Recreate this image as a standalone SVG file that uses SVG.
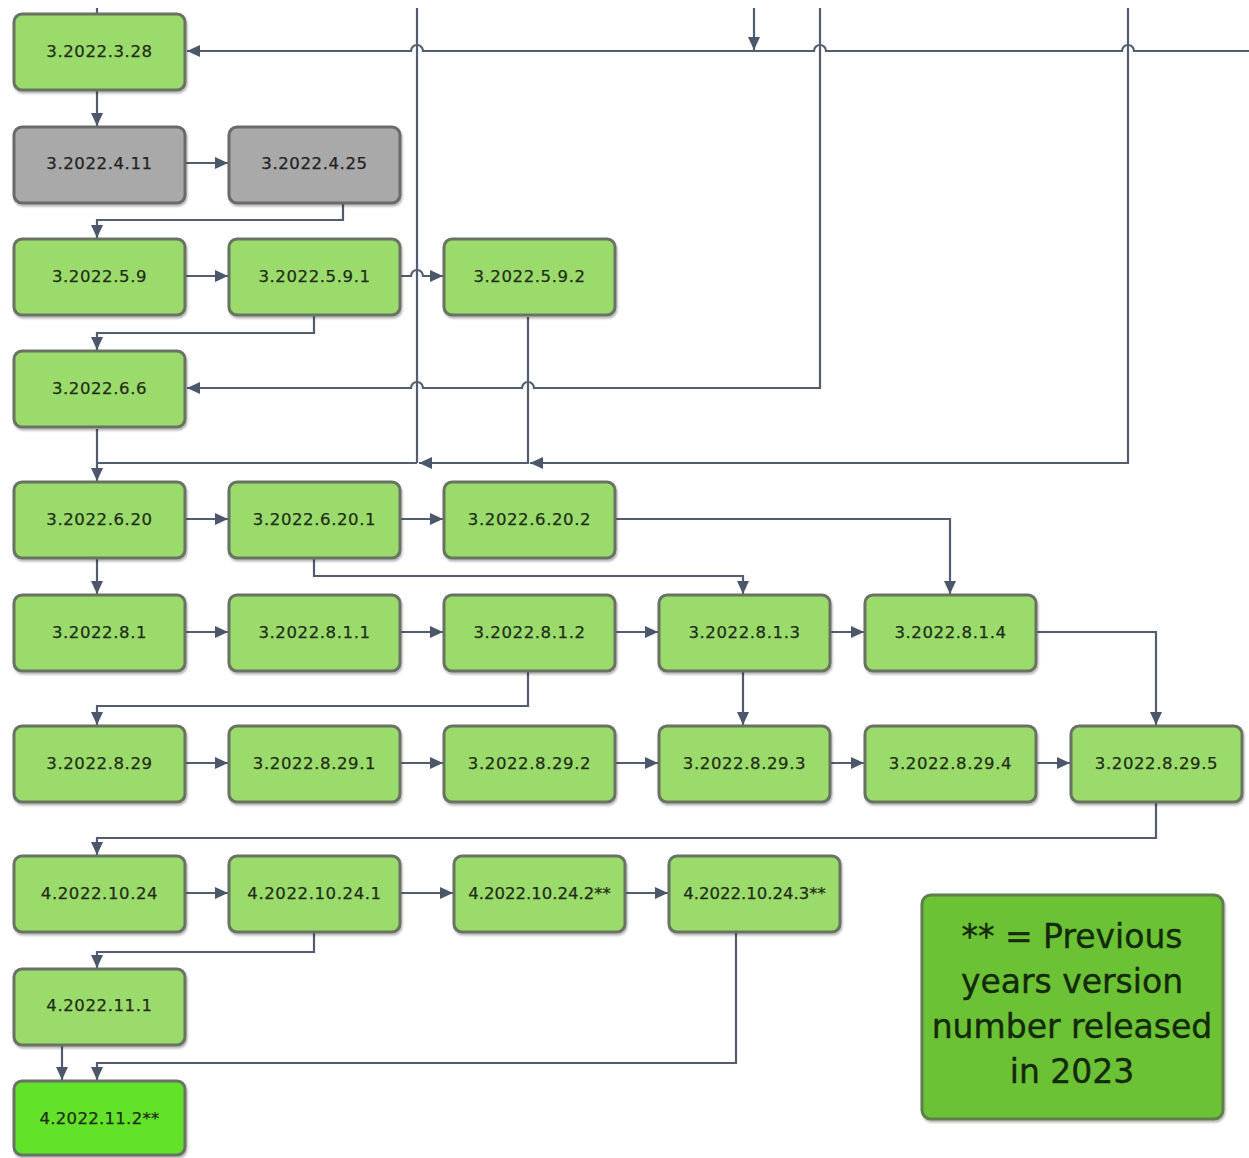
<svg xmlns="http://www.w3.org/2000/svg" width="1249" height="1158" viewBox="0 0 1249 1158">
<defs>
<marker id="arr" markerUnits="userSpaceOnUse" markerWidth="14" markerHeight="14" refX="13" refY="7" orient="auto">
<path d="M0,1 L13,7 L0,13 z" fill="#4d576a"/>
</marker>
<filter id="sh" x="-10%" y="-10%" width="130%" height="140%">
<feDropShadow dx="1" dy="2" stdDeviation="1.2" flood-color="#000" flood-opacity="0.3"/>
</filter>
</defs>
<style>
.n rect{fill:#9bdb6c;stroke:#687364;stroke-width:3;filter:url(#sh)}
.g rect{fill:#a9a9a9;stroke:#6a6a6a}
.f rect{fill:#63e22b;stroke:#687364}
.n text{font-family:"DejaVu Sans",sans-serif;font-size:16.5px;letter-spacing:0.6px;fill:#1f2e18;stroke:#1f2e18;stroke-width:0.25;text-anchor:middle}
.g text{fill:#222;stroke:#222}
.c path{fill:none;stroke:#535d6f;stroke-width:2.2}
.lg rect{fill:#6cc235;stroke:#5e7f4c;stroke-width:3;filter:url(#sh)}
.lg text{font-family:"DejaVu Sans",sans-serif;font-size:33px;fill:#142a0c;stroke:#142a0c;stroke-width:0.4;text-anchor:middle}
</style>
<rect width="1249" height="1158" fill="#fff"/>

<g class="c" id="connectors">
<path d="M97,8 V14"/>
<path d="M1249,51 H1134 a6,6 0 0 0 -12,0 H826 a6,6 0 0 0 -12,0 H423 a6,6 0 0 0 -12,0 H187" marker-end="url(#arr)"/>
<path d="M754,8 V50" marker-end="url(#arr)"/>
<path d="M417,8 V463"/>
<path d="M820,8 V388 H534 a6,6 0 0 0 -12,0 H423 a6,6 0 0 0 -12,0 H187" marker-end="url(#arr)"/>
<path d="M1128,8 V463 H530" marker-end="url(#arr)"/>
<path d="M528,317 V463 H419" marker-end="url(#arr)"/>
<path d="M417,463 H97"/>
<path d="M97,429 V481" marker-end="url(#arr)"/>
<path d="M97,90 V126" marker-end="url(#arr)"/>
<path d="M185,163 H228" marker-end="url(#arr)"/>
<path d="M343,203 V220 H97 V238" marker-end="url(#arr)"/>
<path d="M185,276 H228" marker-end="url(#arr)"/>
<path d="M400,276 H411 a6,6 0 0 1 12,0 H443" marker-end="url(#arr)"/>
<path d="M314,316 V333 H97 V350" marker-end="url(#arr)"/>
<path d="M185,519 H228" marker-end="url(#arr)"/>
<path d="M400,519 H443" marker-end="url(#arr)"/>
<path d="M615,519 H950 V594" marker-end="url(#arr)"/>
<path d="M314,559 V576 H743 V594" marker-end="url(#arr)"/>
<path d="M97,559 V594" marker-end="url(#arr)"/>
<path d="M185,632 H228" marker-end="url(#arr)"/>
<path d="M400,632 H443" marker-end="url(#arr)"/>
<path d="M615,632 H658" marker-end="url(#arr)"/>
<path d="M830,632 H864" marker-end="url(#arr)"/>
<path d="M1036,632 H1156 V725" marker-end="url(#arr)"/>
<path d="M743,671 V725" marker-end="url(#arr)"/>
<path d="M528,671 V706 H97 V725" marker-end="url(#arr)"/>
<path d="M185,763 H228" marker-end="url(#arr)"/>
<path d="M400,763 H443" marker-end="url(#arr)"/>
<path d="M615,763 H658" marker-end="url(#arr)"/>
<path d="M830,763 H864" marker-end="url(#arr)"/>
<path d="M1036,763 H1070" marker-end="url(#arr)"/>
<path d="M1156,802 V838 H97 V855" marker-end="url(#arr)"/>
<path d="M185,893 H228" marker-end="url(#arr)"/>
<path d="M400,893 H453" marker-end="url(#arr)"/>
<path d="M625,893 H668" marker-end="url(#arr)"/>
<path d="M314,933 V952 H97 V968" marker-end="url(#arr)"/>
<path d="M62,1046 V1080" marker-end="url(#arr)"/>
<path d="M736,933 V1063 H97 V1080" marker-end="url(#arr)"/>
</g>

<g id="n1" class="n"><rect x="14" y="14" width="171" height="76" rx="8"/><text x="99.5" y="57">3.2022.3.28</text></g>
<g id="n2" class="n g"><rect x="14" y="127" width="171" height="76" rx="8"/><text x="99.5" y="169">3.2022.4.11</text></g>
<g id="n3" class="n g"><rect x="229" y="127" width="171" height="76" rx="8"/><text x="314.5" y="169">3.2022.4.25</text></g>
<g id="n4" class="n"><rect x="14" y="239" width="171" height="76" rx="8"/><text x="99.5" y="282">3.2022.5.9</text></g>
<g id="n5" class="n"><rect x="229" y="239" width="171" height="76" rx="8"/><text x="314.5" y="282">3.2022.5.9.1</text></g>
<g id="n6" class="n"><rect x="444" y="239" width="171" height="76" rx="8"/><text x="529.5" y="282">3.2022.5.9.2</text></g>
<g id="n7" class="n"><rect x="14" y="351" width="171" height="76" rx="8"/><text x="99.5" y="394">3.2022.6.6</text></g>
<g id="n8" class="n"><rect x="14" y="482" width="171" height="76" rx="8"/><text x="99.5" y="525">3.2022.6.20</text></g>
<g id="n9" class="n"><rect x="229" y="482" width="171" height="76" rx="8"/><text x="314.5" y="525">3.2022.6.20.1</text></g>
<g id="n10" class="n"><rect x="444" y="482" width="171" height="76" rx="8"/><text x="529.5" y="525">3.2022.6.20.2</text></g>
<g id="n11" class="n"><rect x="14" y="595" width="171" height="76" rx="8"/><text x="99.5" y="638">3.2022.8.1</text></g>
<g id="n12" class="n"><rect x="229" y="595" width="171" height="76" rx="8"/><text x="314.5" y="638">3.2022.8.1.1</text></g>
<g id="n13" class="n"><rect x="444" y="595" width="171" height="76" rx="8"/><text x="529.5" y="638">3.2022.8.1.2</text></g>
<g id="n14" class="n"><rect x="659" y="595" width="171" height="76" rx="8"/><text x="744.5" y="638">3.2022.8.1.3</text></g>
<g id="n15" class="n"><rect x="865" y="595" width="171" height="76" rx="8"/><text x="950.5" y="638">3.2022.8.1.4</text></g>
<g id="n16" class="n"><rect x="14" y="726" width="171" height="76" rx="8"/><text x="99.5" y="769">3.2022.8.29</text></g>
<g id="n17" class="n"><rect x="229" y="726" width="171" height="76" rx="8"/><text x="314.5" y="769">3.2022.8.29.1</text></g>
<g id="n18" class="n"><rect x="444" y="726" width="171" height="76" rx="8"/><text x="529.5" y="769">3.2022.8.29.2</text></g>
<g id="n19" class="n"><rect x="659" y="726" width="171" height="76" rx="8"/><text x="744.5" y="769">3.2022.8.29.3</text></g>
<g id="n20" class="n"><rect x="865" y="726" width="171" height="76" rx="8"/><text x="950.5" y="769">3.2022.8.29.4</text></g>
<g id="n21" class="n"><rect x="1071" y="726" width="171" height="76" rx="8"/><text x="1156.5" y="769">3.2022.8.29.5</text></g>
<g id="n22" class="n"><rect x="14" y="856" width="171" height="76" rx="8"/><text x="99.5" y="899">4.2022.10.24</text></g>
<g id="n23" class="n"><rect x="229" y="856" width="171" height="76" rx="8"/><text x="314.5" y="899">4.2022.10.24.1</text></g>
<g id="n24" class="n"><rect x="454" y="856" width="171" height="76" rx="8"/><text x="539.5" y="899" style="letter-spacing:0px">4.2022.10.24.2**</text></g>
<g id="n25" class="n"><rect x="669" y="856" width="171" height="76" rx="8"/><text x="754.5" y="899" style="letter-spacing:0px">4.2022.10.24.3**</text></g>
<g id="n26" class="n"><rect x="14" y="969" width="171" height="76" rx="8"/><text x="99.5" y="1011">4.2022.11.1</text></g>
<g id="n27" class="n f"><rect x="14" y="1081" width="171" height="74" rx="8"/><text x="99.5" y="1124" style="letter-spacing:0.3px">4.2022.11.2**</text></g>

<g id="legend" class="lg">
<rect x="922" y="895" width="301" height="224" rx="9"/>
<text x="1072" y="948">** = Previous</text>
<text x="1072" y="993">years version</text>
<text x="1072" y="1038">number released</text>
<text x="1072" y="1083">in 2023</text>
</g>
</svg>
